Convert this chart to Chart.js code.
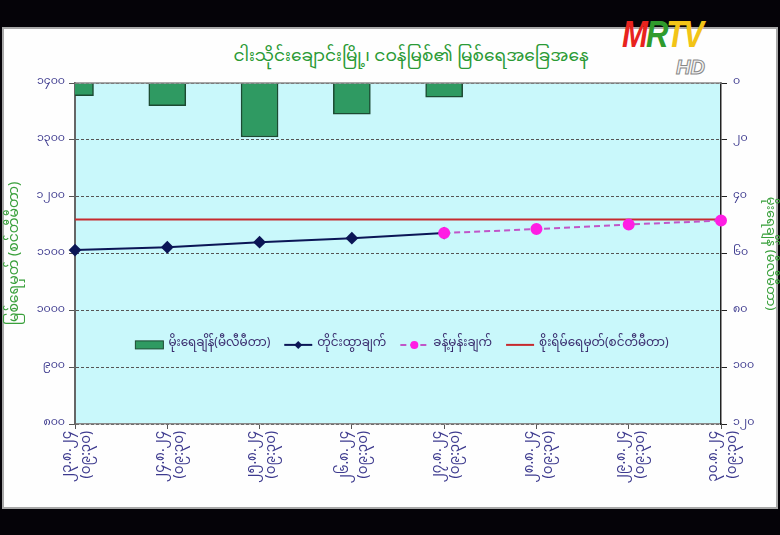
<!DOCTYPE html>
<html>
<head>
<meta charset="utf-8">
<script src="https://cdn.jsdelivr.net/npm/chart.js@4/dist/chart.umd.min.js"></script>
<style>
  html, body { margin: 0; padding: 0; background: #050308; }
  #wrap { position: relative; width: 780px; height: 535px; overflow: hidden; }
  #card { position: absolute; left: 2px; top: 27px; width: 772px; height: 478px; background: #fefefe; border: 2px solid #a8a8a8; }
  #title { position: absolute; left: 0; top: 38px; width: 822px; text-align: center; color: #2a9a35; font: 17px "Noto Sans Myanmar", "Padauk", "Myanmar Text", "Noto Sans", sans-serif; }
  #logo { position: absolute; left: 622px; top: 14px; font: italic bold 36px "Liberation Sans Narrow", "Liberation Sans", sans-serif; letter-spacing: -2px; transform: scaleX(0.86); transform-origin: left top; }
  #hd { position: absolute; left: 676px; top: 56px; font: italic bold 20px "Liberation Sans", sans-serif; color: #f4f4f4; -webkit-text-stroke: 1px #888; }
  canvas { position: absolute; left: 0; top: 0; }
</style>
</head>
<body>
<div id="wrap">
  <div id="card"></div>
  <div id="title">ငါးသိုင်းချောင်းမြို့၊ ငဝန်မြစ်၏ မြစ်ရေအခြေအနေ</div>
  <div id="logo"><span style="color:#e8231e">M</span><span style="color:#2f9b2c">R</span><span style="color:#f2c417">TV</span></div>
  <div id="hd">HD</div>
  <canvas id="chart" width="780" height="535"></canvas>
</div>
<script>
// categories: date / time of reading
const dates = ["၂၃.၈.၂၄", "၂၄.၈.၂၄", "၂၅.၈.၂၄", "၂၆.၈.၂၄", "၂၇.၈.၂၄", "၂၈.၈.၂၄", "၂၉.၈.၂၄", "၃၀.၈.၂၄"];
const times = ["(၀၉:၃၀)", "(၀၉:၃၀)", "(၀၉:၃၀)", "(၀၉:၃၀)", "(၀၉:၃၀)", "(၀၉:၃၀)", "(၀၉:၃၀)", "(၀၉:၃၀)"];

// rainfall (mm), right axis
const rainfall = [4.5, 8, 19, 11, 5, null, null, null];
// observed water level (cm), left axis
const observed = [1106, 1111, 1120, 1127, 1136, null, null, null];
// forecast water level (cm)
const forecast = [null, null, null, null, 1136, 1143, 1151, 1158];
// danger level (cm)
const danger = [1160, 1160, 1160, 1160, 1160, 1160, 1160, 1160];

const leftTicks = [800, 900, 1000, 1100, 1200, 1300, 1400];
const rightTicks = [0, 20, 40, 60, 80, 100, 120];

const seriesNames = ["မိုးရေချိန်(မီလီမီတာ)", "တိုင်းထွာချက်", "ခန့်မှန်းချက်", "စိုးရိမ်ရေမှတ်(စင်တီမီတာ)"];
const leftTitle = "မြစ်ရေမှတ် (စင်တီမီတာ)";
const rightTitle = "မိုးရေချိန် (မီလီမီတာ)";

const MM_FONT = '"Noto Sans Myanmar", "Padauk", "Myanmar Text", "Noto Sans", sans-serif';
const tickColor = "#3d3a8e";

function toMM(n) {
  return String(n).replace(/\d/g, d => "၀၁၂၃၄၅၆၇၈၉"[d]);
}

// cyan plot background + top border
const plotBg = {
  id: "plotBg",
  beforeDraw(chart) {
    const a = chart.chartArea, ctx = chart.ctx;
    ctx.save();
    ctx.fillStyle = "#c9f8fb";
    ctx.fillRect(a.left, a.top, a.right - a.left, a.bottom - a.top);
    ctx.restore();
  },
  afterDraw(chart) {
    const a = chart.chartArea, ctx = chart.ctx;
    ctx.save();
    ctx.strokeStyle = "#8a8a8a";
    ctx.lineWidth = 1.5;
    ctx.beginPath();
    ctx.moveTo(a.left, a.top);
    ctx.lineTo(a.right, a.top);
    ctx.stroke();
    ctx.restore();
  }
};

// legend drawn inside the plot area
const insideLegend = {
  id: "insideLegend",
  afterDraw(chart) {
    const a = chart.chartArea, ctx = chart.ctx;
    const y = a.top + (a.bottom - a.top) * 0.768;
    ctx.save();
    ctx.font = "12px " + MM_FONT;
    const sw = 28, gap = 5, itemGap = 14;
    const ds = chart.data.datasets;
    let total = 0;
    ds.forEach((d, i) => {
      total += sw + gap + ctx.measureText(d.label).width;
      if (i < ds.length - 1) total += itemGap;
    });
    let x = (a.left + a.right) / 2 - total / 2 + 4;
    ds.forEach(d => {
      if (d.type === "bar") {
        ctx.fillStyle = d.backgroundColor;
        ctx.strokeStyle = d.borderColor;
        ctx.lineWidth = 1;
        ctx.fillRect(x, y - 4, sw, 8);
        ctx.strokeRect(x, y - 4, sw, 8);
      } else {
        ctx.strokeStyle = d.borderColor;
        ctx.lineWidth = d.borderWidth;
        ctx.setLineDash(d.borderDash || []);
        ctx.beginPath();
        ctx.moveTo(x, y);
        ctx.lineTo(x + sw, y);
        ctx.stroke();
        ctx.setLineDash([]);
        if (d.pointRadius > 0) {
          ctx.fillStyle = d.pointBackgroundColor;
          ctx.beginPath();
          if (d.pointStyle === "rectRot") {
            const r = 4;
            ctx.moveTo(x + sw / 2, y - r);
            ctx.lineTo(x + sw / 2 + r, y);
            ctx.lineTo(x + sw / 2, y + r);
            ctx.lineTo(x + sw / 2 - r, y);
          } else {
            ctx.arc(x + sw / 2, y, 4, 0, Math.PI * 2);
          }
          ctx.fill();
        }
      }
      x += sw + gap;
      ctx.fillStyle = "#3a2d6e";
      ctx.textBaseline = "middle";
      ctx.fillText(d.label, x, y);
      x += ctx.measureText(d.label).width + itemGap;
    });
    ctx.restore();
  }
};

new Chart(document.getElementById("chart"), {
  data: {
    labels: dates.map((d, i) => [d, times[i]]),
    datasets: [
      {
        type: "bar",
        label: seriesNames[0],
        data: rainfall,
        yAxisID: "y1",
        backgroundColor: "#2f9a62",
        borderColor: "#1c4a32",
        borderWidth: 1.5,
        barThickness: 37,
        clip: 0,
        order: 4
      },
      {
        type: "line",
        label: seriesNames[1],
        data: observed,
        yAxisID: "y",
        borderColor: "#0b1656",
        borderWidth: 2,
        pointStyle: "rectRot",
        pointRadius: 5,
        pointBackgroundColor: "#0b1656",
        pointBorderColor: "#0b1656",
        spanGaps: false,
        order: 2
      },
      {
        type: "line",
        label: seriesNames[2],
        data: forecast,
        yAxisID: "y",
        borderColor: "#c056c8",
        borderWidth: 2,
        borderDash: [6, 4],
        pointStyle: "circle",
        pointRadius: 5,
        pointBackgroundColor: "#ff1ee4",
        pointBorderColor: "#ff1ee4",
        order: 1
      },
      {
        type: "line",
        label: seriesNames[3],
        data: danger,
        yAxisID: "y",
        borderColor: "#c62a2e",
        borderWidth: 2,
        pointRadius: 0,
        order: 3
      }
    ]
  },
  options: {
    responsive: false,
    animation: false,
    layout: { padding: { top: 83, left: 0, right: 0, bottom: 0 } },
    plugins: {
      legend: { display: false },
      tooltip: { enabled: false }
    },
    scales: {
      x: {
        type: "category",
        offset: false,
        grid: { display: true, offset: false, drawOnChartArea: false, color: "#555", tickLength: 5 },
        border: { color: "#888", width: 1.5 },
        ticks: {
          color: tickColor,
          font: { size: 13.5, family: MM_FONT, lineHeight: 1.4 },
          maxRotation: 90,
          minRotation: 90,
          padding: 2,
          labelOffset: -5,
          autoSkip: false
        },
        afterFit(scale) { scale.height = 111; }
      },
      y: {
        position: "left",
        min: leftTicks[0],
        max: leftTicks[leftTicks.length - 1],
        afterBuildTicks(scale) { scale.ticks = leftTicks.map(v => ({ value: v })); },
        grid: { color: "#555", lineWidth: 1, tickLength: 6 },
        border: { color: "#666", width: 2, dash: [3, 2] },
        ticks: {
          color: tickColor,
          font: { size: 11, family: MM_FONT },
          padding: 4,
          callback: v => toMM(v)
        },
        title: {
          display: true,
          text: leftTitle,
          color: "#3aa03c",
          font: { size: 14, family: MM_FONT },
          padding: { top: 8, bottom: 6 }
        },
        afterFit(scale) { scale.width = 75; }
      },
      y1: {
        position: "right",
        reverse: true,
        min: rightTicks[0],
        max: rightTicks[rightTicks.length - 1],
        afterBuildTicks(scale) { scale.ticks = rightTicks.map(v => ({ value: v })); },
        grid: { drawOnChartArea: false, color: "#222", tickLength: 6 },
        border: { color: "#222", width: 1.5 },
        ticks: {
          color: tickColor,
          font: { size: 11, family: MM_FONT },
          padding: 6,
          callback: v => toMM(v)
        },
        title: {
          display: true,
          text: rightTitle,
          color: "#3aa03c",
          font: { size: 13, family: MM_FONT },
          padding: { top: 4, bottom: 0 }
        },
        afterFit(scale) { scale.width = 59; }
      }
    }
  },
  plugins: [plotBg, insideLegend]
});
</script>
</body>
</html>
